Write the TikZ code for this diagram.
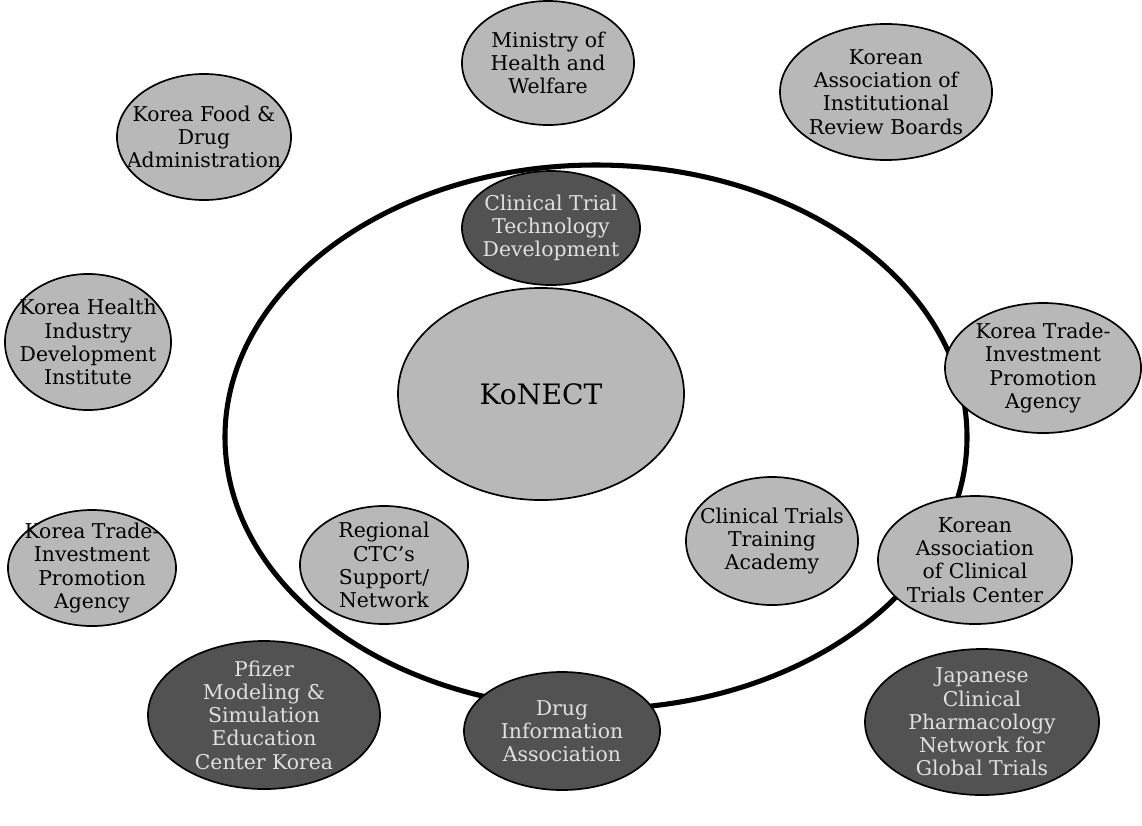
\documentclass[tikz,border=0pt]{standalone}
\usepackage{fontspec}
\setmainfont{DejaVu Serif}
\usetikzlibrary{shapes.geometric}

\begin{document}
\begin{tikzpicture}[x=0.025cm, y=-0.025cm, line join=round, line cap=round]

		\tikzset{org/.style={ellipse, draw=black, line width=1.2pt, fill=black!28, inner sep=0pt},
		darkorg/.style={org, fill=black!68},
		txt/.style={align=center, inner sep=0pt, font=\fontsize{14.5}{16.5}\selectfont},
		darktxt/.style={txt, text=white!88!black}}

		\useasboundingbox (0,0) rectangle (1142,825);

		% the ring
		\draw[line width=3.6pt] (596,437) ellipse [x radius=371, y radius=272];

		% outer ring of partners
		\node[org, minimum width=4.3cm, minimum height=3.1cm,
		label={[txt]center:Ministry of\\Health and\\Welfare}] (mohw) at (548,63) {};
		\node[org, minimum width=5.3cm, minimum height=3.4cm,
		label={[txt]center:Korean\\Association of\\Institutional\\Review Boards}] (kairb) at (886,92) {};
		\node[org, minimum width=4.35cm, minimum height=3.15cm,
		label={[txt]center:Korea Food \&\\Drug\\Administration}] (kfda) at (204,137) {};
		\node[org, minimum width=4.15cm, minimum height=3.4cm,
		label={[txt]center:Korea Health\\Industry\\Development\\Institute}] (khidi) at (88,342) {};
		\node[org, minimum width=4.9cm, minimum height=3.25cm,
		label={[txt]center:Korea Trade-\\Investment\\Promotion\\Agency}] (kotraR) at (1043,368) {};
		\node[org, minimum width=4.2cm, minimum height=2.9cm,
		label={[txt]center:Korea Trade-\\Investment\\Promotion\\Agency}] (kotraL) at (92,568) {};
		\node[org, minimum width=4.85cm, minimum height=3.2cm,
		label={[txt]center:Korean\\Association\\of Clinical\\Trials Center}] (kactc) at (975,560) {};

		% inside the ring
		\node[org, minimum width=7.15cm, minimum height=5.3cm,
		label={[txt, font=\fontsize{20}{24}\selectfont]center:KoNECT}] (konect) at (541,394) {};
		\node[darkorg, minimum width=4.45cm, minimum height=2.85cm,
		label={[darktxt]center:Clinical Trial\\Technology\\Development}] (cttd) at (551,228) {};
		\node[org, minimum width=4.2cm, minimum height=2.95cm,
		label={[txt]center:Regional\\CTC's\\Support/\\Network}] (rctc) at (384,565) {};
		\node[org, minimum width=4.3cm, minimum height=3.2cm,
		label={[txt]center:Clinical Trials\\Training\\Academy}] (ctta) at (772,541) {};

		% bottom row
		\node[darkorg, minimum width=5.8cm, minimum height=3.7cm,
		label={[darktxt]center:Pfizer\\Modeling \&\\Simulation\\Education\\Center Korea}] (pfizer) at (264,715) {};
		\node[darkorg, minimum width=4.9cm, minimum height=2.95cm,
		label={[darktxt]center:Drug\\Information\\Association}] (dia) at (562,731) {};
		\node[darkorg, minimum width=5.85cm, minimum height=3.65cm,
		label={[darktxt]center:Japanese\\Clinical\\Pharmacology\\Network for\\Global Trials}] (jcpn) at (982,722) {};

\end{tikzpicture}
\end{document}
